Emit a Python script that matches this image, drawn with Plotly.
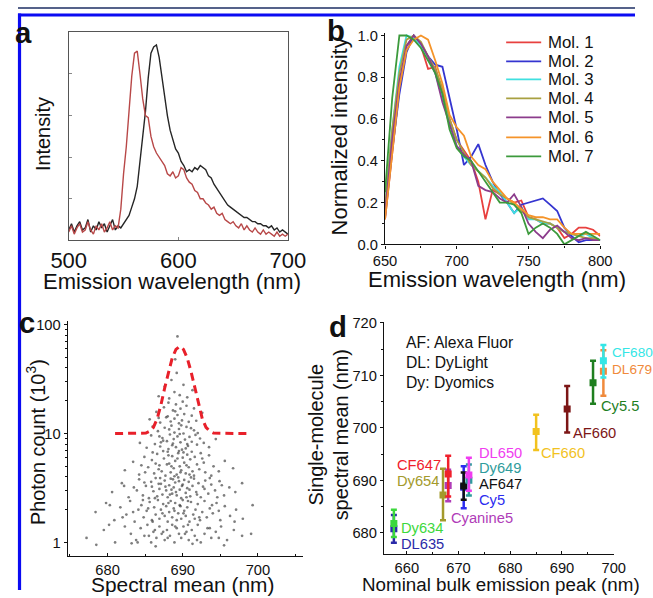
import plotly.graph_objects as go

W, H = 653, 598
FONT = "Liberation Sans, Arial, Helvetica, sans-serif"

# ---------------- panel a: emission spectra ----------------
a_wavelength = [500 + 2.5 * i for i in range(81)]
a_red = [.04, .07, .03, .06, .08, .04, .05, .09, .05, .03, .07, .05, .08, .04, .06, .09, .05, .07, .06,
         .15, .32, .45, .62, .79, .90, .91, .80, .68, .60, .59, .50, .45, .42, .40, .38, .36, .32, .31, .33, .30, .31,
         .35, .34, .30, .28, .27, .24, .23, .20, .20, .18, .17, .15, .16, .13, .12, .13, .10, .09, .08, .09,
         .07, .06, .08, .05, .07, .05, .04, .06, .04, .03, .05, .03, .04, .03, .02, .04, .02, .03, .02, .03]
a_black = [.05, .08, .04, .07, .09, .05, .06, .10, .04, .07, .05, .09, .06, .08, .04, .07, .10, .05, .07,
           .06, .08, .10, .12, .16, .20, .26, .38, .50, .62, .78, .90, .93, .94, .88, .78, .68, .60, .53, .48, .44, .42,
           .38, .36, .33, .34, .33, .35, .34, .36, .35, .34, .31, .30, .27, .25, .23, .21, .19, .17, .16, .15,
           .14, .13, .12, .11, .11, .10, .09, .09, .08, .08, .07, .07, .06, .07, .05, .06, .04, .05, .04, .03]

# ---------------- panel b: normalized single-molecule spectra ----------------
b_wavelength = [650, 655, 660, 665, 670, 675, 680, 685, 690, 695, 700, 705, 710, 715, 720, 725,
                730, 735, 740, 745, 750, 755, 760, 765, 770, 775, 780, 785, 790, 795, 800]
mol1 = [.12, .45, .75, .95, 1.0, .95, .84, .85, .72, .60, .50, .45, .40, .30, .12, .26,
        .24, .22, .20, .21, .13, .12, .10, .10, .08, .03, .05, .08, .08, .07, .04]
mol2 = [.13, .45, .72, .92, 1.0, .96, .90, .86, .85, .70, .55, .38, .42, .48, .38, .30,
        .24, .20, .15, .19, .20, .21, .22, .19, .16, .08, .04, .01, .02, .02, .02]
mol3 = [.20, .55, .85, 1.0, .99, .95, .90, .82, .70, .58, .47, .42, .38, .35, .32, .28,
        .25, .20, .15, .18, .12, .12, .10, .10, .08, .06, .05, .04, .05, .03, .02]
mol4 = [.18, .55, .82, .98, 1.0, .97, .90, .84, .75, .60, .50, .44, .38, .35, .32, .27,
        .24, .22, .19, .16, .13, .12, .11, .10, .08, .06, .05, .04, .03, .03, .02]
mol5 = [.15, .50, .78, .95, 1.0, .96, .90, .82, .68, .57, .47, .43, .40, .28, .26, .25,
        .22, .20, .24, .18, .10, .06, .03, .07, .09, .06, .03, .02, .03, .02, .02]
mol6 = [.12, .45, .75, .93, .98, 1.0, .98, .88, .77, .62, .56, .52, .42, .38, .36, .30,
        .26, .22, .20, .17, .14, .13, .13, .12, .12, .08, .05, .05, .05, .05, .05]
mol7 = [.25, .70, 1.0, 1.0, .98, .94, .88, .82, .72, .55, .46, .42, .40, .35, .30, .25,
        .20, .20, .19, .15, .05, .08, .10, .08, .05, .00, .02, .04, .06, .04, .02]
b_series = [mol1, mol2, mol3, mol4, mol5, mol6, mol7]
b_names = ["Mol. 1", "Mol. 2", "Mol. 3", "Mol. 4", "Mol. 5", "Mol. 6", "Mol. 7"]

# ---------------- panel c: spectral mean vs photon count ----------------
c_points = [
    (677.2, 1.1), (679.5, 1.3), (681.0, 1.0), (682.3, 1.4), (683.1, 1.2), (683.8, 1.05), (684.4, 1.35), (684.9, 1.15),
    (685.3, 1.45), (685.8, 1.0), (686.1, 1.25), (686.5, 1.1), (686.9, 1.4), (687.2, 1.2), (687.6, 1.05), (687.9, 1.3),
    (688.3, 1.15), (688.6, 1.45), (688.9, 1.0), (689.2, 1.35), (689.5, 1.2), (689.8, 1.1), (690.1, 1.4), (690.5, 1.25),
    (690.8, 1.05), (691.2, 1.3), (691.6, 1.15), (692.0, 1.45), (692.4, 1.0), (692.9, 1.2), (693.3, 1.35), (693.8, 1.1),
    (694.4, 1.25), (695.1, 1.4), (695.9, 1.05), (696.8, 1.3), (697.9, 1.15), (699.1, 1.2), (680.2, 1.45), (684.0, 1.0),
    (686.3, 1.3), (688.0, 1.1), (689.0, 1.4), (690.3, 1.2), (691.9, 1.05), (693.6, 1.35), (685.5, 1.15), (687.4, 1.25),
    (690.7, 1.45), (694.8, 1.1), (678.5, 0.95), (686.4, 0.92), (691.3, 0.97), (695.5, 0.94), (683.2, 0.98),
    (678.4, 1.9), (679.8, 2.3), (680.9, 1.6), (681.7, 2.1), (682.5, 1.8), (683.0, 2.4), (683.6, 1.55), (684.1, 2.0),
    (684.5, 2.2), (684.8, 1.7), (685.2, 1.95), (685.6, 2.35), (685.9, 1.6), (686.2, 2.1), (686.4, 1.8), (686.7, 2.45),
    (686.9, 1.65), (687.1, 2.0), (687.4, 2.25), (687.6, 1.75), (687.8, 2.15), (688.0, 1.55), (688.2, 1.9), (688.4, 2.4),
    (688.6, 1.7), (688.8, 2.05), (689.0, 2.3), (689.2, 1.6), (689.4, 1.85), (689.6, 2.2), (689.8, 1.65), (690.0, 2.45),
    (690.2, 1.95), (690.4, 1.75), (690.6, 2.1), (690.9, 1.55), (691.1, 2.35), (691.4, 1.8), (691.7, 2.0), (692.0, 2.25),
    (692.3, 1.6), (692.6, 1.9), (692.9, 2.4), (693.2, 1.7), (693.6, 2.05), (694.0, 1.85), (694.5, 2.3), (695.0, 1.6),
    (695.6, 2.15), (696.3, 1.75), (697.1, 2.0), (698.0, 1.65), (699.3, 2.2), (682.0, 1.7), (684.7, 2.45), (686.0, 1.55),
    (687.3, 1.85), (688.9, 1.95), (690.7, 2.4), (692.2, 1.7), (693.9, 2.2), (685.4, 2.05), (689.7, 2.15), (691.6, 1.65),
    (694.8, 1.95), (680.3, 2.2), (683.4, 1.9), (696.9, 1.55), (688.1, 2.3), (690.1, 1.85),
    (680.6, 2.9), (681.9, 3.5), (682.8, 2.6), (683.5, 3.2), (684.2, 3.8), (684.7, 2.7), (685.1, 3.3), (685.5, 2.55),
    (685.8, 3.6), (686.1, 2.95), (686.4, 3.9), (686.6, 2.65), (686.9, 3.1), (687.1, 3.45), (687.3, 2.75), (687.6, 3.7),
    (687.8, 3.0), (688.0, 2.6), (688.2, 3.35), (688.4, 3.85), (688.6, 2.8), (688.8, 3.2), (689.0, 3.55), (689.2, 2.7),
    (689.4, 3.95), (689.6, 3.05), (689.8, 2.55), (690.0, 3.4), (690.2, 3.75), (690.4, 2.85), (690.6, 3.15), (690.8, 3.6),
    (691.0, 2.65), (691.3, 3.3), (691.5, 3.85), (691.8, 2.9), (692.1, 3.5), (692.4, 2.6), (692.7, 3.25), (693.0, 3.7),
    (693.4, 2.8), (693.8, 3.4), (694.3, 3.0), (694.9, 3.65), (695.5, 2.7), (696.2, 3.2), (697.0, 2.9), (697.9, 3.5),
    (683.9, 3.0), (685.9, 3.25), (687.0, 3.9), (688.5, 3.05), (689.9, 3.3), (691.1, 3.95), (692.9, 3.1), (686.3, 2.55),
    (688.3, 2.75), (690.5, 2.6), (684.9, 3.55), (689.5, 3.65), (691.9, 2.75), (687.7, 3.25), (693.6, 3.9), (695.2, 3.35),
    (682.2, 3.3), (686.8, 3.45), (689.1, 2.9), (690.9, 3.05), (688.7, 3.8), (694.6, 2.6),
    (682.3, 4.6), (683.4, 5.5), (684.2, 4.2), (684.9, 6.1), (685.4, 4.9), (685.9, 5.7), (686.2, 4.3), (686.6, 6.5),
    (686.9, 5.1), (687.2, 4.5), (687.5, 5.9), (687.7, 4.1), (688.0, 6.8), (688.2, 5.3), (688.4, 4.4), (688.6, 6.2),
    (688.8, 4.8), (689.0, 5.6), (689.2, 4.2), (689.4, 6.6), (689.6, 5.0), (689.8, 4.6), (690.0, 6.0), (690.2, 5.4),
    (690.4, 4.3), (690.6, 6.4), (690.8, 4.9), (691.0, 5.8), (691.3, 4.5), (691.6, 6.1), (691.9, 5.2), (692.2, 4.7),
    (692.6, 5.9), (693.0, 4.4), (693.5, 6.3), (694.1, 5.0), (694.8, 4.5), (695.6, 5.6), (696.7, 4.8), (685.0, 4.4),
    (686.4, 5.3), (687.4, 6.9), (688.5, 5.0), (689.5, 6.9), (690.5, 5.1), (691.5, 4.1), (692.8, 5.4), (686.0, 6.7),
    (688.9, 4.05), (690.1, 6.7), (687.9, 5.2), (689.3, 5.9), (691.2, 6.8), (684.5, 5.1), (693.8, 4.1), (686.8, 4.7),
    (689.7, 4.4), (692.4, 6.6), (688.1, 6.3), (690.9, 4.2),
    (684.3, 8.2), (685.2, 7.4), (685.8, 9.6), (686.3, 8.0), (686.7, 10.5), (687.0, 7.6), (687.3, 9.1), (687.6, 11.3),
    (687.9, 8.5), (688.1, 7.2), (688.3, 9.8), (688.5, 11.8), (688.7, 8.1), (688.9, 10.2), (689.1, 7.5), (689.3, 9.4),
    (689.5, 11.0), (689.7, 8.3), (689.9, 7.1), (690.1, 10.0), (690.3, 8.8), (690.5, 11.5), (690.7, 7.7), (690.9, 9.3),
    (691.2, 8.4), (691.5, 10.7), (691.9, 7.9), (692.3, 9.0), (692.8, 8.2), (693.5, 7.5), (694.4, 8.9), (686.0, 11.6),
    (687.4, 8.6), (688.6, 7.8), (689.6, 9.9), (690.6, 8.0), (691.7, 9.7), (686.9, 9.4), (688.2, 10.9), (689.8, 11.9),
    (690.4, 7.3), (691.1, 11.2), (692.0, 10.1), (688.8, 8.9), (687.1, 8.3),
    (685.6, 13.5), (686.5, 15.8), (687.0, 12.6), (687.5, 17.4), (687.8, 14.1), (688.1, 19.2), (688.4, 12.9), (688.7, 16.3),
    (688.9, 13.7), (689.1, 18.5), (689.3, 14.8), (689.5, 12.4), (689.7, 16.9), (689.9, 13.2), (690.2, 15.1), (690.5, 18.0),
    (690.8, 12.8), (691.2, 14.6), (691.8, 13.1), (692.6, 15.5), (688.0, 14.4), (689.0, 16.0), (690.0, 19.6), (686.8, 13.9),
    (691.5, 17.0),
    (686.8, 22), (687.6, 27), (688.2, 21), (688.5, 31), (688.9, 24), (689.2, 36), (689.6, 22.5), (690.1, 28),
    (690.6, 21.5), (691.3, 25), (689.0, 48), (689.3, 78),
]
c_fit_x = [681, 682.5, 684, 685.1, 685.6, 686.1, 686.6, 687.1, 687.6, 688.1, 688.6, 689.1, 689.6,
           690.1, 690.6, 691.1, 691.6, 692.1, 692.6, 693.1, 693.6, 694.1, 695.5, 697, 698.5]
c_fit_y = [10, 10, 10, 10.1, 10.5, 11.4, 13.7, 18.3, 26.2, 37.2, 49.4, 59.2, 63,
           59.2, 49.4, 37.2, 26.2, 18.3, 13.7, 11.4, 10.5, 10.1, 10, 10, 10]

# ---------------- panel d: dyes ----------------
d_names = ["DL635", "Dy634", "Dy654", "Cyanine5", "CF647", "Cy5", "AF647", "Dy649", "DL650",
           "CF660", "AF660", "Cy5.5", "DL679", "CF680"]
d_peak = [657.5, 657.5, 667, 668, 668, 671, 671, 672, 672, 685, 691, 696, 698, 698]
d_mean = [680.8, 681.8, 687.2, 689.0, 691.2, 688.7, 688.9, 690.0, 691.0, 699.3, 703.6, 708.6, 710.8, 712.8]
d_err_plus = [2.6, 2.6, 5.0, 3.0, 3.5, 4.0, 2.6, 3.0, 3.3, 3.2, 4.4, 4.2, 4.0, 3.0]
d_err_minus = [2.7, 2.6, 4.8, 3.0, 4.3, 4.0, 2.6, 2.9, 3.0, 3.5, 4.5, 4.0, 4.7, 3.2]
d_colors = ["#2a2aa8", "#3cd83c", "#a39a2c", "#b03cb8", "#f0202c", "#2c2cf0", "#111111", "#2f9c9c",
            "#f03cf0", "#f2c21e", "#7c1616", "#1f7f1f", "#f08a3c", "#34e6e6"]
d_notes = ["AF: Alexa Fluor", "DL: DyLight", "Dy: Dyomics"]

# ---------------- layout: reference-pixel positions -> page positions ----------------
# measured mapping of the photographed page: picture = offset + scale * page
SX, OX = 0.944, 17.3
SY, OY = 0.975, 7.6
FS = 1 / 0.955  # font compensation


def cx(x):
    return (x - OX) / SX


def cy(y):
    return (y - OY) / SY


def dom_x(x0, x1):
    return [max(0, cx(x0)) / W, min(W, cx(x1)) / W]


def dom_y(y0, y1):
    return [1 - cy(y1) / H, 1 - cy(y0) / H]


def px(x):
    return min(max(cx(x), 0), W) / W


def py(y):
    return 1 - min(max(cy(y), 0), H) / H


def fs(s):
    return round(s * FS, 1)


fig = go.Figure()

# panel a
fig.add_trace(go.Scatter(x=a_wavelength, y=a_black, xaxis="x", yaxis="y", mode="lines",
                         line=dict(color="#262626", width=1.4), showlegend=False))
fig.add_trace(go.Scatter(x=a_wavelength, y=a_red, xaxis="x", yaxis="y", mode="lines",
                         line=dict(color="#b84848", width=1.4), showlegend=False))

# panel b
b_colors = ["#e8403f", "#3535d0", "#40e0e0", "#a8a040", "#8c3c8c", "#f5942a", "#3c9a3c"]
for name, ser, col in zip(b_names, b_series, b_colors):
    fig.add_trace(go.Scatter(x=b_wavelength, y=ser, xaxis="x2", yaxis="y2", mode="lines", name=name,
                             line=dict(color=col, width=1.8), showlegend=False))

# panel c
fig.add_trace(go.Scatter(x=[p[0] for p in c_points], y=[p[1] for p in c_points], xaxis="x3", yaxis="y3",
                         mode="markers", marker=dict(size=2.7, color="rgba(40,40,40,0.6)"), showlegend=False))
fig.add_trace(go.Scatter(x=c_fit_x, y=c_fit_y, xaxis="x3", yaxis="y3", mode="lines",
                         line=dict(color="#e8202a", width=3, dash="8px,5px"), showlegend=False))

# panel d
for i in range(len(d_names)):
    fig.add_trace(go.Scatter(
        x=[d_peak[i]], y=[d_mean[i]], xaxis="x4", yaxis="y4", mode="markers",
        marker=dict(symbol="square", size=7, color=d_colors[i]),
        error_y=dict(type="data", array=[d_err_plus[i]], arrayminus=[d_err_minus[i]],
                     color=d_colors[i], thickness=2.5, width=3),
        showlegend=False))

axis_common = dict(showgrid=False, zeroline=False, showline=True, linecolor="#111", linewidth=1.3,
                   tickcolor="#111", ticklen=3)

fig.update_layout(
    width=W, height=H, autosize=False, margin=dict(l=0, r=0, t=0, b=0),
    paper_bgcolor="white", plot_bgcolor="white", font=dict(family=FONT, color="#111"), showlegend=False,
    xaxis=dict(domain=dom_x(68, 287), anchor="y", range=[500, 700], tickvals=[500, 600, 700],
               tickfont=dict(size=fs(21)), showgrid=False, zeroline=False, showline=True, mirror=True,
               linecolor="#555", linewidth=1.2, ticks="inside", ticklen=3, tickcolor="#888"),
    yaxis=dict(domain=dom_y(33, 241), anchor="x", range=[0, 1], showticklabels=False,
               tickvals=[0.2, 0.4, 0.6, 0.8], showgrid=False, zeroline=False, showline=True, mirror=True,
               linecolor="#555", linewidth=1.2, ticks="inside", ticklen=3, tickcolor="#888"),
    xaxis2=dict(domain=dom_x(384, 599), anchor="y2", range=[650, 800], tickvals=[650, 700, 750, 800],
                tickfont=dict(size=fs(14)), ticks="outside",
                minor=dict(ticks="outside", ticklen=2, dtick=25, tick0=650), **axis_common),
    yaxis2=dict(domain=dom_y(34, 245), anchor="x2", range=[0, 1.01], dtick=0.2, tickformat=".1f",
                tickfont=dict(size=fs(14)), ticks="outside",
                minor=dict(ticks="outside", ticklen=2, dtick=0.1, tick0=0), **axis_common),
    xaxis3=dict(domain=dom_x(67, 302), anchor="y3", range=[674.7, 706], tickvals=[680, 690, 700],
                tickfont=dict(size=fs(14)), ticks="inside",
                minor=dict(ticks="inside", ticklen=2, tickvals=[675, 685, 695, 705]), **axis_common),
    yaxis3=dict(domain=dom_y(322, 557), anchor="x3", type="log", range=[-0.128, 2.03],
                tickvals=[1, 10, 100], ticktext=["1", "10", "100"], tickfont=dict(size=fs(14)), ticks="outside",
                minor=dict(ticks="outside", ticklen=2,
                           tickvals=[2, 3, 4, 5, 6, 7, 8, 9, 20, 30, 40, 50, 60, 70, 80, 90]),
                **axis_common),
    xaxis4=dict(domain=dom_x(383, 613), anchor="y4", range=[655.6, 700.1], tickvals=[660, 670, 680, 690, 700],
                tickfont=dict(size=fs(14)), ticks="inside",
                minor=dict(ticks="inside", ticklen=2, tickvals=[665, 675, 685, 695]), **axis_common),
    yaxis4=dict(domain=dom_y(323, 555), anchor="x4", range=[675.9, 720.1], tickvals=[680, 690, 700, 710, 720],
                tickfont=dict(size=fs(14)), ticks="outside",
                minor=dict(ticks="outside", ticklen=2, tickvals=[685, 695, 705, 715]), **axis_common),
)

ann = []


def text(x, y, s, size, angle=0, bold=False, color="#111", xanchor="center"):
    ann.append(dict(x=px(x), y=py(y), xref="paper", yref="paper", text=f"<b>{s}</b>" if bold else s,
                    showarrow=False, textangle=angle, xanchor=xanchor, yanchor="middle",
                    font=dict(size=fs(size), color=color, family=FONT)))


# panel letters
text(23, 33, "a", 28, bold=True)
text(335, 31, "b", 28, bold=True)
text(26, 323, "c", 28, bold=True)
text(337, 327, "d", 28, bold=True)
# axis titles
text(43, 135, "Intensity", 19, angle=-90)
text(171, 282, "Emission wavelength (nm)", 21)
text(338, 137, "Normalized intensity", 21, angle=-90)
text(496, 280, "Emission wavelength (nm)", 21)
text(35, 443, "Photon count (10<sup>3</sup>)", 19, angle=-90)
text(182, 585, "Spectral mean (nm)", 20)
text(328, 435, "Single-molecule<br>spectral mean (nm)", 19, angle=-90)
text(500, 585, "Nominal bulk emission peak (nm)", 18)
for note, yy in zip(d_notes, [343, 363, 383]):
    text(403, yy, note, 15, xanchor="left")

# hand-placed legend of panel b
legend_rows = [43, 62, 80, 99, 118, 138, 157]
shapes = []
for name, col, yy in zip(b_names, b_colors, legend_rows):
    text(545, yy, name, 16, xanchor="left")
    shapes.append(dict(type="line", xref="paper", yref="paper", x0=px(505), x1=px(540), y0=py(yy), y1=py(yy),
                       line=dict(color=col, width=1.8)))

# dye labels (anchored in panel-d data coordinates)
d_label_pos = {
    "CF680": (699.3, 714.3), "DL679": (699.3, 711.1), "Cy5.5": (697.2, 704.2), "AF660": (691.8, 699.1),
    "CF660": (685.6, 695.3), "DL650": (673.5, 695.3), "Dy649": (673.5, 692.4), "AF647": (673.5, 689.4),
    "Cy5": (673.5, 686.3), "Cyanine5": (668.1, 682.9), "CF647": (657.7, 693.0), "Dy654": (657.7, 689.8),
    "Dy634": (658.5, 681.0), "DL635": (658.5, 677.9),
}
for name, col in zip(d_names, d_colors):
    lx, ly = d_label_pos[name]
    size = 13 if name in ("CF680", "DL679") else 14
    ann.append(dict(x=lx, y=ly, xref="x4", yref="y4", text=name, showarrow=False, xanchor="left",
                    yanchor="middle", font=dict(size=fs(size), color=col, family=FONT)))

# page frame: grey rule and blue border
shapes += [
    dict(type="line", xref="paper", yref="paper", x0=0, x1=1, y0=py(8.5), y1=py(8.5),
         line=dict(color="#55628a", width=2)),
    dict(type="line", xref="paper", yref="paper", x0=0, x1=1, y0=py(15.5), y1=py(15.5),
         line=dict(color="#0b0bf2", width=3)),
    dict(type="line", xref="paper", yref="paper", x0=1.6 / W, x1=1.6 / W, y0=py(14), y1=0,
         line=dict(color="#0b0bf2", width=3.2)),
]
fig.update_layout(annotations=ann, shapes=shapes)

fig.write_html("out.html", config={"displayModeBar": False},
               post_script="document.body.style.margin='0';document.body.style.overflow='hidden';")
